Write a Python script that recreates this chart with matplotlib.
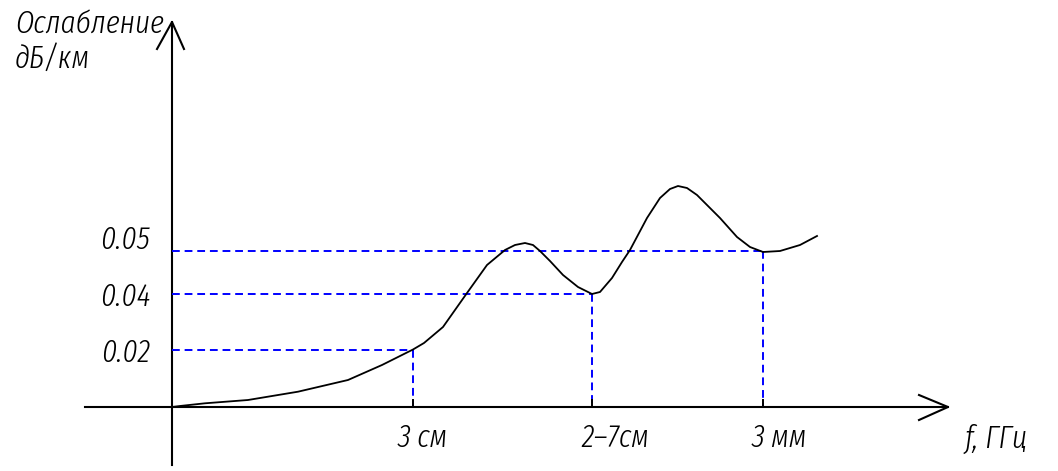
import matplotlib.pyplot as plt

# curve (x: arbitrary frequency units, y: attenuation units)
curve_x = [0, 8, 33, 76, 126, 176, 210, 241, 252, 271, 283, 295, 305, 315,
           333, 343, 353, 361, 368, 378, 391, 406, 420, 428, 440, 450, 458,
           475, 488, 498, 506, 515, 525, 548, 565, 578, 591, 608, 628, 645]
curve_y = [0, 1, 3.7, 7, 15.3, 27, 42, 57.5, 64, 80, 97, 114, 128, 142,
           157, 162, 164, 162, 156, 146, 132, 120, 113, 115, 129, 145, 157,
           189, 209, 218, 221, 219, 212, 189, 170, 160, 155, 156, 162, 171]

# reference levels: tick label, level on the curve, position on x
level_labels = ["0.02", "0.04", "0.05"]
level_y = [57, 113, 156]
level_x = [241, 420, 591]
band_labels = ["3 см", "2–7см", "3 мм"]

fig = plt.figure(figsize=(10.58, 4.71), dpi=100)
ax = fig.add_axes([0, 0, 1, 1])
ax.set_xlim(-172, 886)
ax.set_ylim(-64, 407)
ax.axis("off")

font = dict(family=["Fira Sans Extra Condensed", "DejaVu Sans"], style="italic",
            weight=300, fontsize=23, color="black")

# axes with open arrow heads
ax.plot([-87, 776], [0, 0], color="black", lw=1.5)
ax.plot([0, 0], [-58, 385], color="black", lw=1.5)
ax.plot([-15, 0, 12], [358, 385, 358], color="black", lw=1.5)
ax.plot([747, 776, 747], [12, 0, -13], color="black", lw=1.5)

# dashed guide lines
for lx, ly in zip(level_x, level_y):
    ax.plot([0, lx], [ly, ly], color="blue", lw=1.4, ls=(0, (4, 2.5)))
    ax.plot([lx, lx], [ly, 0], color="blue", lw=1.4, ls=(0, (4, 2.5)))
    ax.plot([lx, lx], [0, 7], color="black", lw=1.4)

ax.plot(curve_x, curve_y, color="black", lw=1.3)

# label baselines relative to their level (0.05 sits above its line)
label_dy = [-12, -12, 2]
for lab, ly, dy in zip(level_labels, level_y, label_dy):
    ax.text(-22, ly + dy, lab, ha="right", va="baseline", **font)

for lab, lx in zip(band_labels, [251, 443, 607]):
    ax.text(lx, -40, lab, ha="center", va="baseline", **font)

ax.text(793, -41, "f, ГГц", ha="left", va="baseline", **font)
ax.text(-157, 374, "Ослабление", ha="left", va="baseline", **font)
ax.text(-157, 339, "дБ/км", ha="left", va="baseline", **font)

fig.savefig("out.png", dpi=100)
